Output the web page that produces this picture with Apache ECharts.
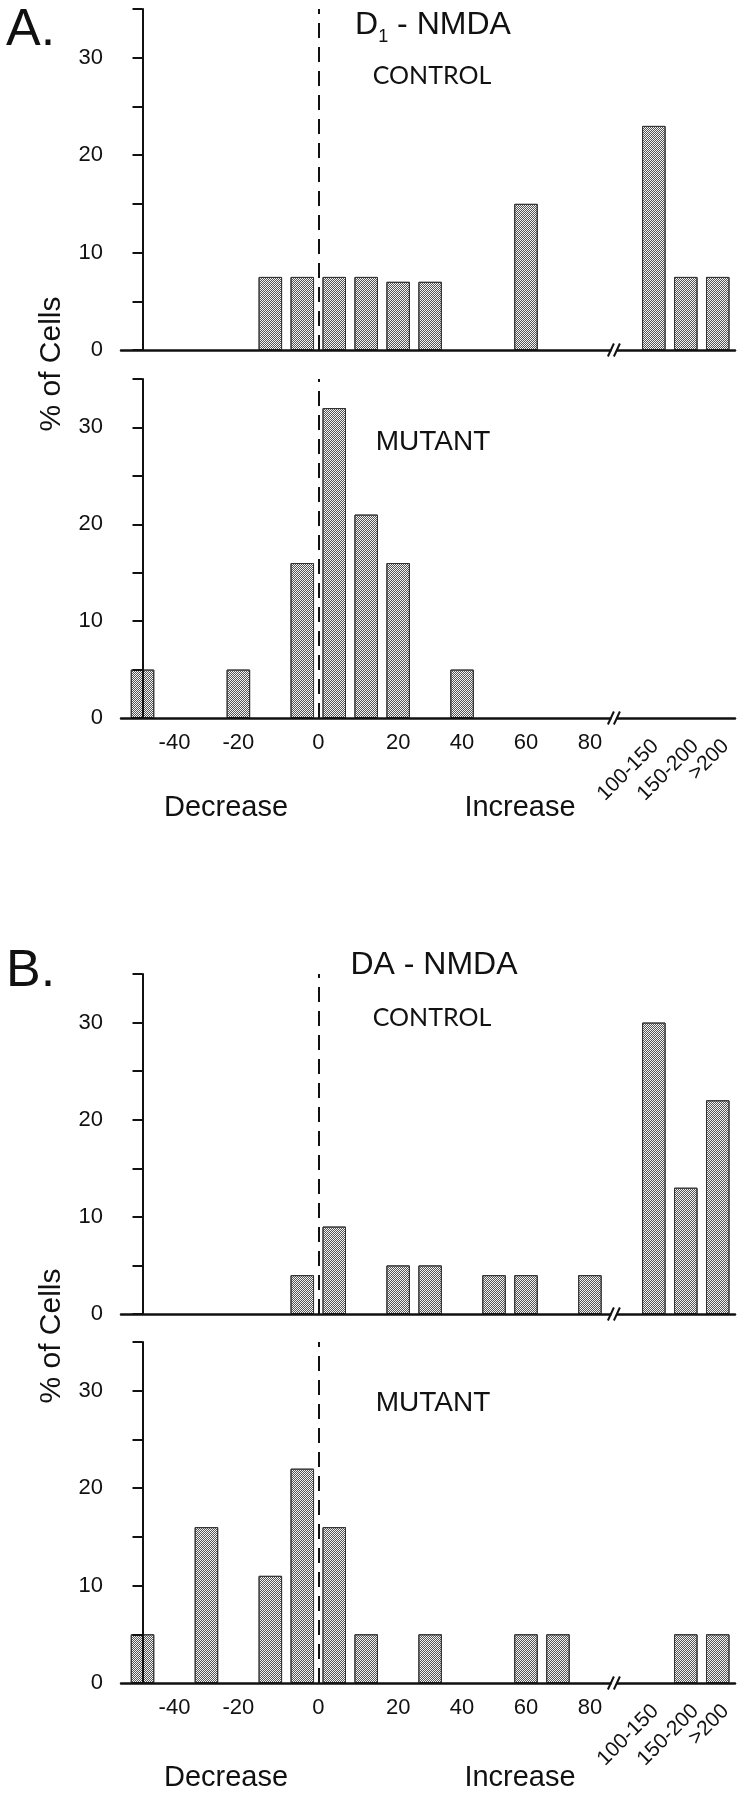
<!DOCTYPE html>
<html><head><meta charset="utf-8">
<script src="https://cdn.jsdelivr.net/npm/echarts@6/dist/echarts.min.js"></script>
<style>html,body{margin:0;padding:0;background:#fff}#c{width:744px;height:1800px}</style>
</head><body><div id="c"></div>
<script>
// ---- data ----
// bins: decreases (magnitude ranges), increases, a break slot, then the wide increase bins
const bins = ['-60..-50','-50..-40','-40..-30','-30..-20','-20..-10','-10..0',
              '0..10','10..20','20..30','30..40','40..50','50..60','60..70','70..80','80..90',
              'break','100-150','150-200','>200'];
const tickLabels = ['-40','-20','0','20','40','60','80'];
const tickPos = [1, 3, 5.5, 8, 10, 12, 14];
const rangeLabels = ['100-150','150-200','>200'];
const rangePos = [16.05, 17.3, 18.25];
const yTickLabels = ['0','10','20','30'];

const d1Control = [0,0,0,0,7.5,7.5,7.5,7.5,7,7,0,0,15,0,0,null,23,7.5,7.5];
const d1Mutant  = [5,0,0,5,0,16,32,21,16,0,5,0,0,0,0,null,0,0,0];
const daControl = [0,0,0,0,0,4,9,0,5,5,0,4,4,0,4,null,30,13,22];
const daMutant  = [5,0,16,0,11,22,16,5,0,5,0,0,5,5,0,null,0,5,5];

// ---- layout / style ----
const FF = '"Liberation Sans", Arial, Helvetica, sans-serif';
const INK = '#111';
const XMIN = -0.673, XMAX = 18.54;
const ZERO_POS = bins.indexOf('0..10') - 0.5;
const BREAK_POS = 14.75;
const panels = [
  {data: d1Control, top: 9,    height: 341, labels: false},
  {data: d1Mutant,  top: 379,  height: 339, labels: true},
  {data: daControl, top: 974,  height: 340, labels: false},
  {data: daMutant,  top: 1342, height: 341, labels: true}
];

const chart = echarts.init(document.getElementById('c'), null, {renderer: 'canvas'});
const grid = [], xAxis = [], yAxis = [], series = [];
const mainX = [];
panels.forEach((p, i) => {
  grid.push({left: 121, right: 9, top: p.top, height: p.height});
  mainX.push(xAxis.length);
  xAxis.push({
    gridIndex: i, type: 'value', min: XMIN, max: XMAX, position: 'bottom', z: 5,
    axisLine: {show: true, onZero: false, lineStyle: {color: INK, width: 2.5}},
    axisTick: {show: false}, splitLine: {show: false},
    axisLabel: p.labels ? {
      show: true, customValues: tickPos,
      formatter: v => { const k = tickPos.indexOf(v); return k >= 0 ? tickLabels[k] : ''; },
      fontSize: 22, fontFamily: FF, color: INK, margin: 14
    } : {show: false}
  });
  if (p.labels) {
    xAxis.push({
      gridIndex: i, type: 'value', min: XMIN, max: XMAX, position: 'bottom',
      axisLine: {show: false}, axisTick: {show: false}, splitLine: {show: false},
      axisLabel: {
        show: true, customValues: rangePos, rotate: 45,
        formatter: v => { const k = rangePos.indexOf(v); return k >= 0 ? rangeLabels[k] : ''; },
        fontSize: 21, fontFamily: FF, color: INK, margin: 25
      }
    });
  }
  yAxis.push({
    gridIndex: i, type: 'value', min: 0, max: 35, interval: 5, z: 5,
    axisLine: {show: true, lineStyle: {color: INK, width: 2}},
    axisTick: {show: true, length: 10, lineStyle: {color: INK, width: 2}},
    splitLine: {show: false},
    axisLabel: {
      formatter: v => yTickLabels.indexOf(String(v)) >= 0 ? String(v) : '',
      fontSize: 22, fontFamily: FF, color: INK, margin: 18
    }
  });
  series.push({
    type: 'bar', xAxisIndex: mainX[i], yAxisIndex: i,
    data: p.data.map((v, k) => [k, v]).filter(d => d[1] > 0),
    barWidth: 23.5,
    itemStyle: {
      color: '#f4f4f4', borderColor: '#333', borderWidth: 1,
      decal: {symbol: 'rect', symbolSize: 1, color: '#555',
              dashArrayX: [[1, 1], [0, 1, 1, 0]], dashArrayY: [1, 0], rotation: 0}
    },
    markLine: {
      silent: true, symbol: 'none', label: {show: false},
      lineStyle: {type: [15, 9], width: 2, color: INK},
      data: [{xAxis: ZERO_POS}]
    }
  });
});

function txt(text, x, y, size, opts) {
  opts = opts || {};
  return {
    type: 'text', x: x, y: y, rotation: opts.rotation || 0, z: 100,
    style: Object.assign({
      text: text, font: (opts.weight || 'normal') + ' ' + size + 'px ' + (opts.family || FF),
      fill: INK, textAlign: opts.align || 'center', align: opts.align || 'center',
      textVerticalAlign: 'middle', verticalAlign: 'middle'
    }, opts.extra || {})
  };
}

const graphics = [
  txt('A.', 6, 31, 52, {align: 'left'}),
  txt('B.', 6, 972, 52, {align: 'left'}),
  txt('{m|D}{s|1}{m| - NMDA}', 433, 25, 32, {extra: {rich: {
    m: {fontSize: 32, fontFamily: FF, fill: INK},
    s: {fontSize: 18, fontFamily: FF, fill: INK, verticalAlign: 'bottom', lineHeight: 43}
  }}}),
  txt('DA - NMDA', 434, 965, 32),
  txt('CONTROL', 432, 76, 25, {family: 'Lato, "DejaVu Sans", sans-serif'}),
  txt('CONTROL', 432, 1018, 25, {family: 'Lato, "DejaVu Sans", sans-serif'}),
  txt('MUTANT', 433, 442, 28),
  txt('MUTANT', 433, 1403, 28),
  txt('% of Cells', 52, 364, 30, {rotation: Math.PI / 2}),
  txt('% of Cells', 52, 1336, 30, {rotation: Math.PI / 2}),
  txt('Decrease', 226, 808, 29),
  txt('Increase', 520, 808, 29),
  txt('Decrease', 226, 1778, 29),
  txt('Increase', 520, 1778, 29)
];

chart.setOption({
  animation: false,
  textStyle: {fontFamily: FF},
  grid: grid, xAxis: xAxis, yAxis: yAxis, series: series,
  graphic: graphics
});

// axis break marks, placed through the axis scales
const breaks = [];
panels.forEach((p, i) => {
  const q = chart.convertToPixel({xAxisIndex: mainX[i], yAxisIndex: i}, [BREAK_POS, 0]);
  const x = q[0], y = q[1];
  breaks.push({type: 'rect', z: 110, shape: {x: x - 2.5, y: y - 2.5, width: 5, height: 5},
               style: {fill: '#fff'}});
  breaks.push({type: 'line', z: 111, shape: {x1: x - 6, y1: y + 6.5, x2: x, y2: y - 6.5},
               style: {stroke: INK, lineWidth: 2}});
  breaks.push({type: 'line', z: 111, shape: {x1: x, y1: y + 6.5, x2: x + 6, y2: y - 6.5},
               style: {stroke: INK, lineWidth: 2}});
});
chart.setOption({graphic: graphics.concat(breaks)});
</script></body></html>
